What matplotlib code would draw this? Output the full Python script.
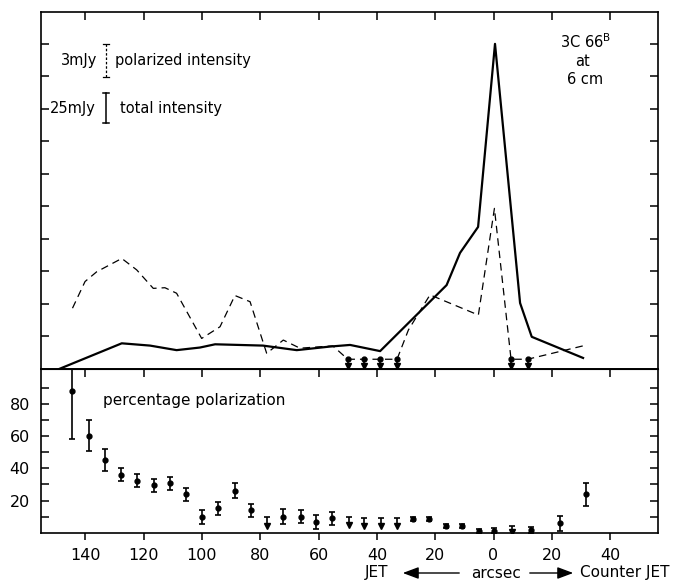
import matplotlib
matplotlib.use("Agg")
import matplotlib.pyplot as plt
import numpy as np

# ---------------- data ----------------
# upper panel: total intensity (solid), arbitrary units (1 tick = 25 mJy)
tot_x = [-149, -127.5, -117.8, -108.7, -100.7, -95.5, -79.1, -67.5, -56.1, -49.2,
         -38.9, -16.1, -11.5, -5.3, 0.5, 9.1, 13.1, 30.7]
tot_y = [0.0, 0.79, 0.72, 0.58, 0.66, 0.76, 0.72, 0.58, 0.69, 0.74,
         0.55, 2.58, 3.57, 4.37, 10.0, 2.03, 0.99, 0.34]

# upper panel: polarized intensity (dashed), arbitrary units (1 tick = 3 mJy)
pol_x = [-144.4, -140.1, -136.1, -127.5, -122.4, -116.7, -112.7, -108.7, -100.1,
         -93.8, -88.7, -83.5, -77.8, -72.1, -66.4, -58.5, -55.1, -50.0, -44.3,
         -38.8, -33.1, -29.2, -21.8, -5.2, 0.3, 6.0, 11.7, 32.0]
pol_y = [1.87, 2.69, 2.99, 3.40, 3.05, 2.48, 2.50, 2.33, 0.94,
         1.30, 2.26, 2.07, 0.48, 0.89, 0.64, 0.69, 0.71, 0.30, 0.30,
         0.30, 0.30, 1.20, 2.28, 1.66, 4.94, 0.30, 0.30, 0.74]

# upper limits on polarized intensity
pol_lim_x = [-50.0, -44.3, -38.8, -33.1, 6.0, 11.7]
pol_lim_y = [0.30, 0.30, 0.30, 0.30, 0.30, 0.30]

# lower panel: percentage polarization with error bars
pct_x = [-144.4, -138.6, -133.4, -127.9, -122.2, -116.4, -110.9, -105.6, -99.9,
         -94.4, -88.8, -83.3, -72.1, -65.9, -60.8, -55.3, -27.7, -22.1, -16.4,
         -10.9, -5.0, 0.2, 12.9, 22.8, 31.7]
pct_y = [88.0, 60.2, 45.1, 36.0, 32.3, 29.4, 30.7, 23.9, 9.6,
         15.2, 26.1, 14.1, 10.0, 10.0, 6.5, 9.0, 8.6, 8.6, 4.4,
         4.4, 1.3, 1.3, 1.8, 5.9, 23.9]
pct_err = [30.0, 9.5, 7.0, 4.0, 4.0, 3.8, 4.0, 4.0, 4.3,
           4.0, 4.5, 4.0, 4.5, 4.0, 4.4, 4.0, 1.5, 1.5, 1.2,
           1.2, 1.2, 1.4, 2.0, 4.6, 7.2]

# lower panel: upper limits (top of bar, arrow tip)
lim_x = [-77.8, -49.7, -44.3, -38.7, -33.2, 6.2]
lim_top = [10.0, 9.6, 9.0, 9.3, 9.3, 4.0]
lim_tip = [4.5, 4.8, 4.2, 4.2, 4.2, 0.8]

xticks = [-140, -120, -100, -80, -60, -40, -20, 0, 20, 40]
xticklabels = ["140", "120", "100", "80", "60", "40", "20", "0", "20", "40"]
pct_ticks = [10, 20, 30, 40, 50, 60, 70, 80, 90]
pct_labels = ["", "20", "", "40", "", "60", "", "80", ""]

# ---------------- figure ----------------
plt.rcParams['font.family'] = ['DejaVu Sans']
fig = plt.figure(figsize=(6.74, 5.82), dpi=100)

L, W = 41 / 674, 617 / 674
ax1 = fig.add_axes([L, (582 - 369) / 582, W, 357 / 582])
ax2 = fig.add_axes([L, (582 - 532.8) / 582, W, 163.8 / 582])

XL = (-155.2, 56.4)
spine_lw = 1.2

# upper panel
ax1.plot(tot_x, tot_y, color="black", lw=1.6, solid_joinstyle="round")
ax1.plot(pol_x, pol_y, color="black", lw=0.9, dashes=(6, 4))
ax1.plot(pol_lim_x, pol_lim_y, "o", color="black", ms=3.5)
ax1.vlines(pol_lim_x, 0.0, pol_lim_y, color="black", lw=1.2)
ax1.plot(pol_lim_x, [0.08] * len(pol_lim_x), "v", color="black", ms=4)
ax1.set_xlim(*XL)
ax1.set_ylim(0, 10.98)
ax1.set_xticks(xticks)
ax1.set_yticks(range(1, 11))
ax1.tick_params(axis="both", direction="in", length=6, width=1.1,
                top=True, bottom=False, left=True, right=True,
                labelbottom=False, labelleft=False)
for s in ax1.spines.values():
    s.set_linewidth(spine_lw)

# legend scale bars
ax1.plot([0.1053, 0.1053], [0.819, 0.910], transform=ax1.transAxes,
         color="black", lw=0.9, dashes=(2, 1.5))
for yy in (0.819, 0.910):
    ax1.plot([0.1003, 0.1103], [yy, yy], transform=ax1.transAxes, color="black", lw=0.9)
ax1.plot([0.1053, 0.1053], [0.689, 0.773], transform=ax1.transAxes,
         color="black", lw=1.1)
for yy in (0.689, 0.773):
    ax1.plot([0.1003, 0.1103], [yy, yy], transform=ax1.transAxes, color="black", lw=1.1)
ax1.text(0.0908, 0.8655, "3mJy", transform=ax1.transAxes, ha="right", va="center", fontsize=10.5)
ax1.text(0.120, 0.8655, "polarized intensity", transform=ax1.transAxes, ha="left", va="center", fontsize=10.5)
ax1.text(0.089, 0.731, "25mJy", transform=ax1.transAxes, ha="right", va="center", fontsize=10.5)
ax1.text(0.128, 0.731, "total intensity", transform=ax1.transAxes, ha="left", va="center", fontsize=10.5)

ax1.text(0.883, 0.916, r"3C 66$^{\mathrm{B}}$", transform=ax1.transAxes, ha="center", va="center", fontsize=10.5)
ax1.text(0.878, 0.862, "at", transform=ax1.transAxes, ha="center", va="center", fontsize=10.5)
ax1.text(0.882, 0.812, "6 cm", transform=ax1.transAxes, ha="center", va="center", fontsize=10.5)

# lower panel
ax2.errorbar(pct_x, pct_y, yerr=pct_err, fmt="o", color="black", ms=3.5,
             elinewidth=1.2, capsize=2.5, capthick=1.2)
ax2.vlines(lim_x, lim_tip, lim_top, color="black", lw=1.2)
ax2.plot(lim_x, lim_top, "_", color="black", ms=5, mew=1.2)
ax2.plot(lim_x, lim_tip, "v", color="black", ms=4)
ax2.set_xlim(*XL)
ax2.set_ylim(0, 101.6)
ax2.set_yticks(pct_ticks)
ax2.set_yticklabels(pct_labels)
ax2.set_xticks(xticks)
ax2.set_xticklabels(xticklabels)
ax2.tick_params(axis="y", direction="in", length=6, width=1.1, left=True, right=True,
                labelsize=11.5, pad=8)
ax2.tick_params(axis="x", direction="out", length=5, width=1.1, top=False, bottom=True,
                labelsize=11.5, pad=6)
sec = ax2.secondary_xaxis("top")
sec.set_xticks(xticks)
sec.set_xticklabels([])
sec.tick_params(direction="in", length=6, width=1.1)
for s in ax2.spines.values():
    s.set_linewidth(spine_lw)
ax2.text(0.1005, 0.81, "percentage polarization", transform=ax2.transAxes,
         ha="left", va="center", fontsize=11)

# bottom axis caption
fy = 1 - 573 / 582
fig.text(377 / 674, fy, "JET", ha="center", va="center", fontsize=11)
fig.text(496 / 674, fy, "arcsec", ha="center", va="center", fontsize=11)
fig.text(670 / 674, fy, "Counter JET", ha="right", va="center", fontsize=11)
fig.add_artist(matplotlib.patches.FancyArrowPatch((462 / 674, fy), (400 / 674, fy),
               transform=fig.transFigure, arrowstyle="-|>,head_length=0.8,head_width=0.3",
               color="black", lw=1.0, mutation_scale=12))
fig.add_artist(matplotlib.patches.FancyArrowPatch((527 / 674, fy), (576 / 674, fy),
               transform=fig.transFigure, arrowstyle="-|>,head_length=0.8,head_width=0.3",
               color="black", lw=1.0, mutation_scale=12))

fig.savefig("out.png", dpi=100)
